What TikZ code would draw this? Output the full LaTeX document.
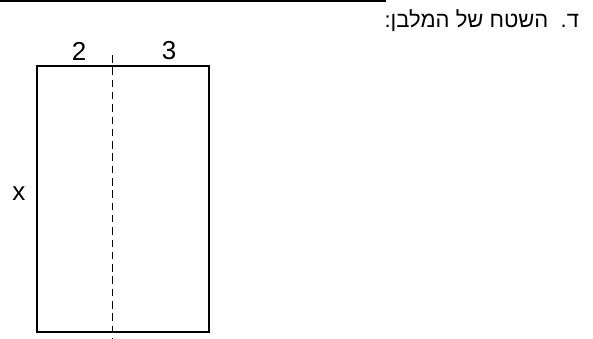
\documentclass[tikz,border=0pt]{standalone}
\usepackage{fontspec}
\setmainfont{Liberation Sans}
\newfontfamily\hebfont[Script=Hebrew]{Liberation Sans}
\TeXXeTstate=1
\usetikzlibrary{positioning}

\tikzset{
  side/.style={font=\fontsize{26}{28}\selectfont, inner sep=0pt},
  cut/.style={dashed, dash pattern=on 7.5pt off 4.8pt, line width=1.8pt},
}

\begin{document}
\begin{tikzpicture}[x=1pt, y=-1pt, line width=2.1pt]
\useasboundingbox (0,0) rectangle (593,338);
% rule at the top
\coordinate (ruleL) at (0,1.2);
\coordinate (ruleR) at (386,1.2);
\draw (ruleL) -- (ruleR);
% question
\node[anchor=east, inner sep=0pt, font=\fontsize{22}{24}\selectfont] (title) at (580,21)
  {\hebfont\beginR ד.~~השטח של המלבן:\endR};
% rectangle
\coordinate (tl) at (37,66);
\coordinate (br) at (209,332);
\draw (tl) rectangle (br);
% split line
\coordinate (cutT) at (112.5,55);
\coordinate (cutB) at (112.5,338);
\draw[cut] (cutT) -- (cutB);
% side lengths
\node[side] (a) at (79,51) {2};
\node[side] (b) at (169,51) {3};
\node[side] (h) at (19,194) {x};
\end{tikzpicture}
\end{document}
